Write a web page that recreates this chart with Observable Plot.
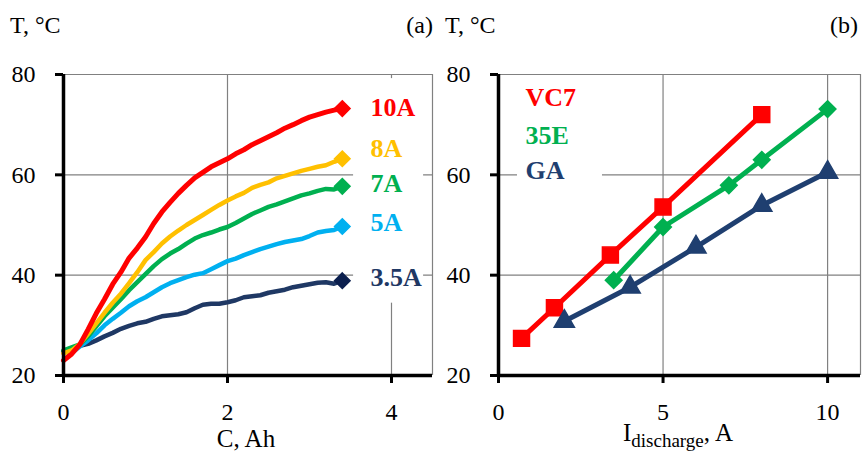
<!DOCTYPE html>
<html>
<head>
<meta charset="utf-8">
<script src="https://cdn.jsdelivr.net/npm/d3@7"></script>
<script src="https://cdn.jsdelivr.net/npm/@observablehq/plot@0.6"></script>
<style>
  body { margin: 0; background: white; }
  #wrap { position: relative; width: 865px; height: 452px; overflow: hidden; background: white; font-family: "Liberation Serif", serif; }
  .plotbox { position: absolute; top: 0; }
  .t { position: absolute; font-size: 24px; line-height: 24px; white-space: nowrap; color: #000; }
  .ax { font-size: 25px; }
  sub { font-size: 19px; vertical-align: -6px; line-height: 0; }
</style>
</head>
<body>
<div id="wrap">
  <div class="plotbox" id="pa" style="left:0px"></div>
  <div class="plotbox" id="pb" style="left:433px"></div>
  <div class="t" style="left:10px; top:13px">T, °C</div>
  <div class="t" style="left:333px; top:13px; width:100px; text-align:right">(a)</div>
  <div class="t" style="left:445px; top:13px">T, °C</div>
  <div class="t" style="left:758px; top:13px; width:100px; text-align:right">(b)</div>
  <div class="t ax" style="left:146px; top:427px; width:200px; text-align:center">C, Ah</div>
  <div class="t ax" style="left:578px; top:421px; width:200px; text-align:center">I<sub>discharge</sub>, A</div>
</div>
<script>
// ---- Panel (a): temperature vs capacity ----
const cGrid = [0.0,0.1,0.2,0.3,0.4,0.5,0.6,0.7,0.8,0.9,1.0,1.1,1.2,1.3,1.4,1.5,1.6,1.7,1.8,1.9,2.0,2.1,2.2,2.3,2.4,2.5,2.6,2.7,2.8,2.9,3.0,3.1,3.2,3.3,3.4];
const t10A = [23.0,24.3,26.2,29.2,32.4,35.2,38.2,40.6,43.4,45.4,47.6,50.3,52.6,54.5,56.3,57.9,59.4,60.5,61.6,62.4,63.2,64.2,65.0,66.0,66.8,67.6,68.4,69.3,70.0,70.8,71.5,72.0,72.5,72.9,73.2];
const t8A  = [24.4,25.0,26.3,28.3,30.4,32.5,34.5,36.3,38.4,40.6,43.0,44.6,46.3,47.7,48.9,50.0,51.0,52.0,53.0,54.0,54.9,55.7,56.4,57.4,58.0,58.5,59.3,59.8,60.3,60.8,61.2,61.6,61.9,62.6,63.2];
const t7A  = [25.0,25.6,26.2,27.8,29.8,31.8,33.5,35.2,37.0,38.6,40.2,41.8,43.2,44.3,45.2,46.3,47.3,48.0,48.5,49.1,49.6,50.4,51.3,52.2,52.9,53.6,54.1,54.7,55.3,55.9,56.3,56.8,57.2,57.1,57.7];
const t5A  = [23.0,24.5,25.8,27.0,28.4,30.0,31.3,32.5,33.8,34.8,35.6,36.6,37.6,38.4,39.0,39.6,40.1,40.4,41.2,42.0,42.8,43.3,44.0,44.6,45.2,45.7,46.2,46.6,46.9,47.2,47.8,48.5,48.8,49.0,49.7];
const t35A = [24.8,25.4,25.9,26.3,27.0,27.8,28.5,29.3,29.9,30.4,30.7,31.3,31.8,32.0,32.2,32.6,33.4,34.1,34.3,34.3,34.6,35.0,35.6,35.8,36.0,36.5,36.8,37.1,37.6,37.9,38.2,38.5,38.6,38.3,38.9];
const seriesA = ["10A","8A","7A","5A","3.5A"];
const valuesA = [t10A, t8A, t7A, t5A, t35A];
const lineColorsA = ["#FF0000","#FFC000","#00B050","#00B0F0","#1F3864"];
const markColorsA = ["#FF0000","#FFC000","#00B050","#00B0F0","#0B1F4E"];
const labelXA = 3.745;
const labelYA = [73.4, 65.3, 58.3, 50.5, 39.6];

// ---- Panel (b): temperature vs discharge current ----
const seriesB = ["VC7","35E","GA"];
const iVC7 = [0.7, 1.7, 3.4, 5, 8];
const tVC7 = [27.4, 33.5, 44.0, 53.6, 72.0];
const i35E = [3.5, 5, 7, 8, 10];
const t35E = [39.0, 49.6, 57.9, 63.0, 73.1];
const iGA  = [2, 4, 6, 8, 10];
const tGA  = [30.8, 37.6, 45.6, 53.9, 60.5];
const colorsB = ["#FF0000","#00B050","#1F3F70"];
const symbolsB = ["square","diamond2","triangle"];
const labelXB = 0.82;
const labelYB = [75.4, 67.8, 60.9];

const FONT = "Liberation Serif, serif";
const GRID = "#808080";

function axes(xTicks) {
  return [
    Plot.axisY({ticks: [20,40,60,80], tickSize: 8, tickPadding: 20, strokeWidth: 3, label: null, fontSize: 24, tickFormat: d3.format("d")}),
    Plot.axisX({ticks: xTicks, tickSize: 8, tickPadding: 19, strokeWidth: 3, label: null, fontSize: 24, tickFormat: d3.format("d")}),
    Plot.ruleX([0], {stroke: "black", strokeWidth: 3.5}),
    Plot.ruleY([20], {stroke: "black", strokeWidth: 3.5})
  ];
}

// Panel (a)
const rowsA = seriesA.flatMap((s, k) => cGrid.map((c, j) => ({s, k, c, t: valuesA[k][j]})));
const endsA = seriesA.map((s, k) => ({s, k, c: cGrid[cGrid.length - 1], t: valuesA[k][valuesA[k].length - 1]}));
const labelsA = seriesA.map((s, k) => ({s, k, x: labelXA, y: labelYA[k]}));
const boxA = [{x: labelXA, y1: d3.min(labelYA), y2: d3.max(labelYA)}];

const plotA = Plot.plot({
  width: 433, height: 452,
  marginLeft: 63, marginRight: 1, marginTop: 74, marginBottom: 77,
  x: {domain: [0, 4.5]},
  y: {domain: [20, 80]},
  style: {fontFamily: FONT, fontSize: "24px", color: "black", background: "transparent", overflow: "visible"},
  marks: [
    Plot.gridY([40, 60, 80], {stroke: GRID, strokeOpacity: 1, strokeWidth: 1.2}),
    Plot.gridX([2, 4, 4.5], {stroke: GRID, strokeOpacity: 1, strokeWidth: 1.2}),
    Plot.rect(boxA, {x1: "x", x2: "x", y1: "y1", y2: "y2", fill: "white",
      insetLeft: -17, insetRight: -53, insetTop: -29, insetBottom: -26}),
    ...seriesA.slice().reverse().map((s) => {
      const k = seriesA.indexOf(s);
      return Plot.line(rowsA.filter(d => d.k === k), {x: "c", y: "t", stroke: lineColorsA[k],
        strokeWidth: k === 0 ? 5 : 4.5, strokeLinejoin: "round", strokeLinecap: "round"});
    }),
    ...seriesA.map((s, k) => Plot.dot([endsA[k]], {x: "c", y: "t", symbol: "diamond2", r: 7,
      fill: markColorsA[k], stroke: markColorsA[k], strokeWidth: 1.5})),
    ...seriesA.map((s, k) => Plot.text([labelsA[k]], {x: "x", y: "y", text: "s", fill: lineColorsA[k],
      textAnchor: "start", lineAnchor: "middle", fontWeight: "bold", fontSize: 26})),
    ...axes([0, 2, 4])
  ]
});
document.getElementById("pa").appendChild(plotA);

// Panel (b)
const xsB = [iVC7, i35E, iGA];
const ysB = [tVC7, t35E, tGA];
const rowsB = seriesB.flatMap((s, k) => xsB[k].map((x, j) => ({s, k, x, y: ysB[k][j]})));
const labelsB = seriesB.map((s, k) => ({s, k, x: labelXB, y: labelYB[k]}));
const boxB = [{x: labelXB, y1: d3.min(labelYB), y2: d3.max(labelYB)}];
const rB = [9, 7.5, 7.5];

const plotB = Plot.plot({
  width: 432, height: 452,
  marginLeft: 65, marginRight: 5, marginTop: 74, marginBottom: 77,
  x: {domain: [0, 11]},
  y: {domain: [20, 80]},
  style: {fontFamily: FONT, fontSize: "24px", color: "black", background: "transparent", overflow: "visible"},
  marks: [
    Plot.gridY([40, 60, 80], {stroke: GRID, strokeOpacity: 1, strokeWidth: 1.2}),
    Plot.gridX([5, 10, 11], {stroke: GRID, strokeOpacity: 1, strokeWidth: 1.2}),
    Plot.rect(boxB, {x1: "x", x2: "x", y1: "y1", y2: "y2", fill: "white",
      insetLeft: -8, insetRight: -77, insetTop: -19, insetBottom: -20}),
    ...seriesB.map((s, k) => Plot.line(rowsB.filter(d => d.k === k), {x: "x", y: "y", stroke: colorsB[k],
      strokeWidth: 5, strokeLinejoin: "round"})),
    ...seriesB.map((s, k) => Plot.dot(rowsB.filter(d => d.k === k), {x: "x", y: "y", symbol: symbolsB[k], r: rB[k],
      fill: colorsB[k], stroke: colorsB[k], strokeWidth: 1.5})),
    ...seriesB.map((s, k) => Plot.text([labelsB[k]], {x: "x", y: "y", text: "s", fill: colorsB[k],
      textAnchor: "start", lineAnchor: "middle", fontWeight: "bold", fontSize: 26})),
    ...axes([0, 5, 10])
  ]
});
document.getElementById("pb").appendChild(plotB);
</script>
</body>
</html>
